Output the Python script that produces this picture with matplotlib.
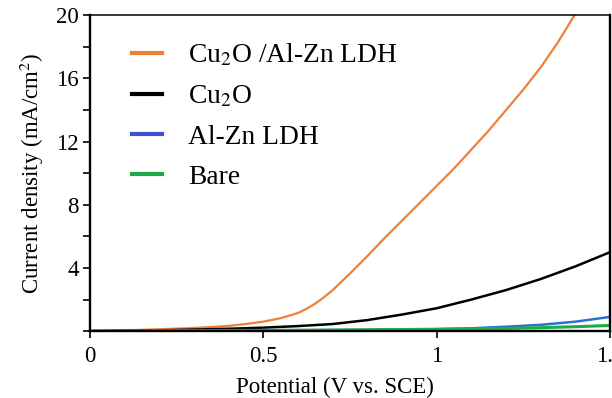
import matplotlib
matplotlib.use("Agg")
import matplotlib.pyplot as plt

plt.rcParams['font.family'] = ['Liberation Serif', 'DejaVu Serif']
plt.rcParams['mathtext.fontset'] = 'stix'

# potential (V vs. SCE) and current density (mA/cm2)
v_hyb = [0, 0.1, 0.2, 0.3, 0.4, 0.45, 0.5, 0.55, 0.6, 0.625, 0.65, 0.675, 0.7, 0.75, 0.8, 0.85,
         0.9, 0.95, 1.0, 1.05, 1.1, 1.15, 1.2, 1.25, 1.3, 1.35, 1.4]
j_hyb = [0, 0.05, 0.12, 0.2, 0.33, 0.45, 0.6, 0.82, 1.15, 1.42, 1.75, 2.15, 2.6, 3.65, 4.75, 5.9,
         7.0, 8.1, 9.2, 10.3, 11.5, 12.7, 14.0, 15.3, 16.7, 18.3, 20.1]

v_cu2o = [0, 0.2, 0.4, 0.5, 0.6, 0.7, 0.8, 0.9, 1.0, 1.1, 1.2, 1.3, 1.4, 1.5]
j_cu2o = [0, 0.05, 0.15, 0.22, 0.32, 0.45, 0.7, 1.05, 1.45, 2.0, 2.6, 3.3, 4.1, 5.0]

v_ldh = [0, 0.3, 0.6, 0.8, 1.0, 1.1, 1.2, 1.3, 1.4, 1.5]
j_ldh = [0, 0.02, 0.05, 0.08, 0.12, 0.18, 0.28, 0.4, 0.6, 0.9]

v_bare = [0, 0.3, 0.6, 0.9, 1.2, 1.3, 1.4, 1.5]
j_bare = [0, 0.03, 0.06, 0.1, 0.17, 0.22, 0.28, 0.36]

fig = plt.figure(figsize=(6.12, 3.98), dpi=100)
ax = fig.add_axes([0.147, 0.168, 0.85, 0.794])

ax.plot(v_hyb, j_hyb, color='#f07f3a', lw=1.6, label='Cu$_2$O /Al-Zn LDH')
ax.plot(v_cu2o, j_cu2o, color='black', lw=1.8, label='Cu$_2$O')
ax.plot(v_ldh, j_ldh, color='#2a72d0', lw=1.8, label='Al-Zn LDH')
ax.plot(v_bare, j_bare, color='#1faa4a', lw=2.2, label='Bare')

leg = ax.legend(loc='upper left', bbox_to_anchor=(0.08, 0.915), frameon=False,
                fontsize=19.8, handlelength=1.1, handletextpad=0.95, labelspacing=0.55,
                borderpad=0, borderaxespad=0)
for h in leg.legend_handles:
    h.set_linewidth(3)
# legend handle of LDH is a bit more violet
leg.legend_handles[2].set_color('#4050d0')

ax.set_xlim(0, 1.5)
ax.set_ylim(0, 20)
ax.set_xticks([0, 0.5, 1, 1.5])
ax.set_xticklabels(['0', '0.5', '1', '1.5'])
ax.set_yticks([4, 8, 12, 16, 20])
ax.set_yticks([0, 2, 6, 10, 14, 18], minor=True)
ax.tick_params(axis='both', which='both', direction='out', length=5, width=1.2,
               labelsize=16.5)
ax.tick_params(axis='x', pad=6)
ax.tick_params(axis='y', pad=3)

for s in ['left', 'bottom', 'right']:
    ax.spines[s].set_linewidth(1.7)
ax.spines['top'].set_linewidth(1.1)

ax.set_xlabel('Potential (V vs. SCE)', fontsize=16.5)
ax.xaxis.set_label_coords(0.47, -0.145)
ax.set_ylabel('Current density (mA/cm$^2$)', fontsize=16.5, labelpad=7)

fig.savefig('out.png', dpi=100)
